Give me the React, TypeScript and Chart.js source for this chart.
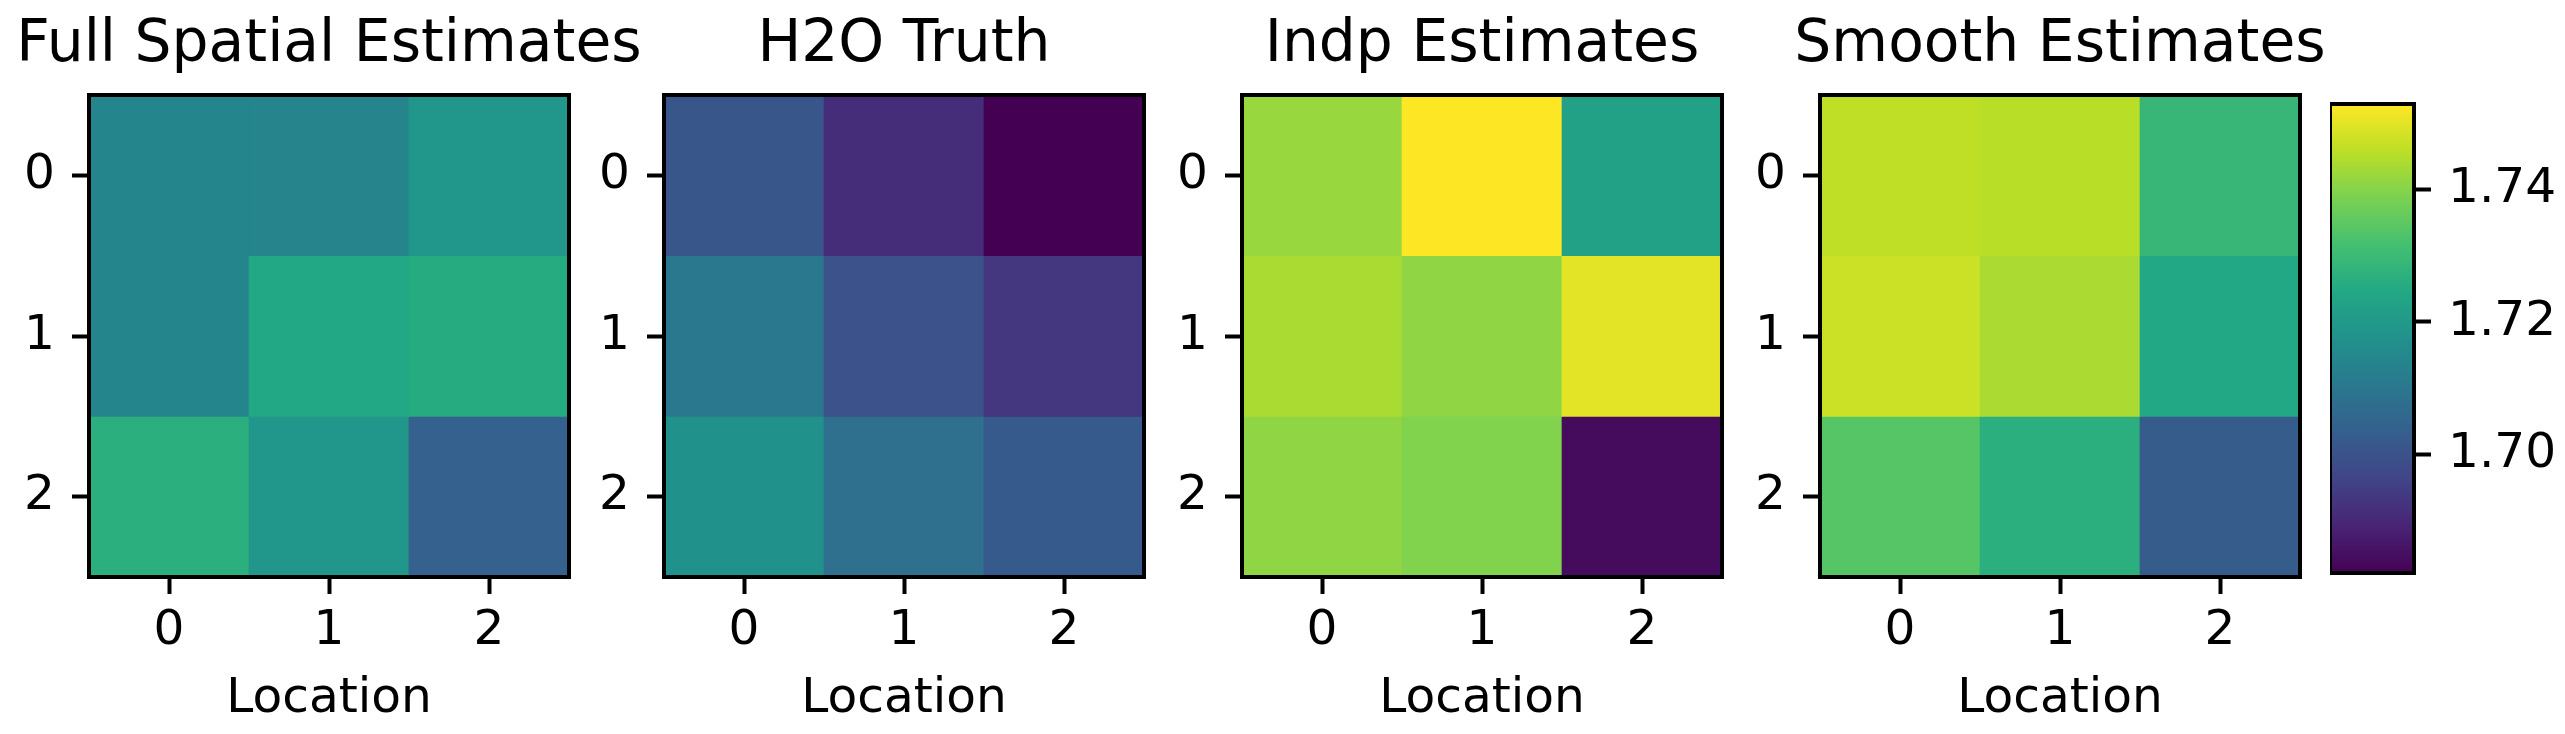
import React, { useEffect, useRef } from 'react';
import { Chart, registerables } from 'chart.js';

Chart.register(...registerables);

// ---------- data ----------
const rowLabels = ['0', '1', '2'];
const colLabels = ['0', '1', '2'];
const panelTitles = ['Full Spatial Estimates', 'H2O Truth', 'Indp Estimates', 'Smooth Estimates'];
const xAxisTitle = 'Location';

const fullSpatial = [
  [1.714, 1.7138, 1.719],
  [1.714, 1.7245, 1.7255],
  [1.7267, 1.719, 1.704],
];
const h2oTruth = [
  [1.701, 1.691, 1.682],
  [1.7105, 1.6998, 1.693],
  [1.7175, 1.708, 1.702],
];
const indpEstimates = [
  [1.742, 1.753, 1.7225],
  [1.7438, 1.741, 1.75],
  [1.741, 1.7395, 1.684],
];
const smoothEstimates = [
  [1.746, 1.7455, 1.729],
  [1.7475, 1.744, 1.7245],
  [1.734, 1.7267, 1.7026],
];
const colorbarTicks = [1.7, 1.72, 1.74];

const viridisStops = [
  '#440154', '#482475', '#414487', '#355f8d', '#2a788e', '#21918c',
  '#22a884', '#44bf70', '#7ad151', '#bddf26', '#fde725',
];

// ---------- layout / style ----------
const FONT = 'DejaVu Sans';
const TITLE_SIZE = 58.3;
const TICK_SIZE = 48.6;
const PANEL_LEFT = [89, 664, 1242, 1820];
const PANEL_W = 480;
const AREA_TOP = 95;
const AREA_BOTTOM = 577;
const CANVAS_H = 734;
const YAXIS_W = 87;
const CB_LEFT = 2330;
const CB_W = 84;
const CB_TOP = 104;
const CB_BOTTOM = 573;
const PAGE_W = 2565;
const LINE_W = 4;
const TICK_LEN = 17;

function hexToRgb(h: string) {
  return [parseInt(h.slice(1, 3), 16), parseInt(h.slice(3, 5), 16), parseInt(h.slice(5, 7), 16)];
}
function viridis(t: number) {
  const c = Math.max(0, Math.min(1, t)) * (viridisStops.length - 1);
  const i = Math.min(Math.floor(c), viridisStops.length - 2);
  const f = c - i;
  const a = hexToRgb(viridisStops[i]);
  const b = hexToRgb(viridisStops[i + 1]);
  const m = a.map((v, k) => Math.round(v + (b[k] - v) * f));
  return `rgb(${m[0]},${m[1]},${m[2]})`;
}

const framePlugin = {
  id: 'frame',
  afterDatasetsDraw(chart: any) {
    const { ctx, chartArea: a } = chart;
    ctx.save();
    ctx.strokeStyle = '#000';
    ctx.lineWidth = LINE_W;
    ctx.strokeRect(a.left, a.top, a.right - a.left, a.bottom - a.top);
    ctx.restore();
  },
};

function heatmapConfig(title: string, values: number[][], vmin: number, vmax: number): any {
  const datasets = values.map((row, r) => ({
    label: rowLabels[r],
    data: row.map(() => [r - 0.5, r + 0.5]),
    backgroundColor: row.map((v) => viridis((v - vmin) / (vmax - vmin))),
    borderColor: row.map((v) => viridis((v - vmin) / (vmax - vmin))),
    borderWidth: 0,
    borderSkipped: false,
    barPercentage: 1,
    categoryPercentage: 1,
    grouped: false,
  }));
  return {
    type: 'bar',
    data: { labels: colLabels, datasets },
    plugins: [framePlugin],
    options: {
      animation: false,
      responsive: false,
      maintainAspectRatio: false,
      devicePixelRatio: 1,
      layout: { padding: 0 },
      plugins: {
        legend: { display: false },
        tooltip: { enabled: false },
        title: {
          display: true,
          text: title,
          color: '#000',
          font: { family: FONT, size: TITLE_SIZE, weight: 'normal', lineHeight: 1.2 },
          padding: { top: 11, bottom: AREA_TOP - 11 - TITLE_SIZE * 1.2 },
        },
      },
      scales: {
        x: {
          type: 'category',
          offset: true,
          grid: {
            display: true,
            offset: false,
            drawOnChartArea: false,
            drawTicks: true,
            tickLength: TICK_LEN,
            tickWidth: LINE_W,
            tickColor: '#000',
          },
          border: { display: false },
          ticks: { color: '#000', font: { family: FONT, size: TICK_SIZE }, padding: 8, maxRotation: 0, autoSkip: false },
          title: {
            display: true,
            text: xAxisTitle,
            color: '#000',
            font: { family: FONT, size: TICK_SIZE, lineHeight: 1.2 },
            padding: { top: 0, bottom: 5 },
          },
          afterFit: (s: any) => {
            s.height = CANVAS_H - AREA_BOTTOM;
          },
        },
        y: {
          type: 'linear',
          position: 'left',
          reverse: true,
          min: -0.5,
          max: 2.5,
          afterBuildTicks: (s: any) => {
            s.ticks = rowLabels.map((_, i) => ({ value: i }));
          },
          grid: {
            display: true,
            drawOnChartArea: false,
            drawTicks: true,
            tickLength: TICK_LEN,
            tickWidth: LINE_W,
            tickColor: '#000',
          },
          border: { display: false },
          ticks: {
            color: '#000',
            font: { family: FONT, size: TICK_SIZE },
            padding: 17,
            callback: (v: any) => rowLabels[v] ?? '',
          },
          afterFit: (s: any) => {
            s.width = YAXIS_W;
          },
        },
        y2: {
          type: 'linear',
          position: 'right',
          display: true,
          grid: { display: false },
          border: { display: false },
          ticks: { display: false },
          afterFit: (s: any) => {
            s.width = YAXIS_W;
          },
        },
      },
    },
  };
}

function colorbarConfig(vmin: number, vmax: number): any {
  return {
    type: 'bar',
    data: {
      labels: [''],
      datasets: [
        {
          data: [[vmin, vmax]],
          backgroundColor: (c: any) => {
            const ca = c.chart.chartArea;
            if (!ca) return viridisStops[5];
            const g = c.chart.ctx.createLinearGradient(0, ca.bottom, 0, ca.top);
            viridisStops.forEach((col, i) => g.addColorStop(i / (viridisStops.length - 1), col));
            return g;
          },
          borderWidth: 0,
          barPercentage: 1,
          categoryPercentage: 1,
        },
      ],
    },
    plugins: [framePlugin],
    options: {
      animation: false,
      responsive: false,
      maintainAspectRatio: false,
      devicePixelRatio: 1,
      layout: { padding: { top: CB_TOP, bottom: CANVAS_H - CB_BOTTOM, left: 0, right: 0 } },
      plugins: { legend: { display: false }, tooltip: { enabled: false }, title: { display: false } },
      scales: {
        x: { display: false },
        y: {
          type: 'linear',
          position: 'right',
          min: vmin,
          max: vmax,
          afterBuildTicks: (s: any) => {
            s.ticks = colorbarTicks.map((v) => ({ value: v }));
          },
          grid: {
            display: true,
            drawOnChartArea: false,
            drawTicks: true,
            tickLength: TICK_LEN,
            tickWidth: LINE_W,
            tickColor: '#000',
          },
          border: { display: false },
          ticks: {
            color: '#000',
            font: { family: FONT, size: TICK_SIZE },
            padding: 17,
            callback: (v: any) => Number(v).toFixed(2),
          },
          afterFit: (s: any) => {
            s.width = PAGE_W - CB_LEFT - CB_W;
          },
        },
      },
    },
  };
}

export default function App() {
  const refs = [useRef<HTMLCanvasElement>(null), useRef<HTMLCanvasElement>(null), useRef<HTMLCanvasElement>(null), useRef<HTMLCanvasElement>(null)];
  const cbRef = useRef<HTMLCanvasElement>(null);
  const panels = [fullSpatial, h2oTruth, indpEstimates, smoothEstimates];

  useEffect(() => {
    const all = panels.flat(2);
    const vmin = Math.min(...all);
    const vmax = Math.max(...all);
    const charts: Chart[] = [];
    panels.forEach((vals, i) => {
      const cv = refs[i].current;
      if (cv) charts.push(new Chart(cv, heatmapConfig(panelTitles[i], vals, vmin, vmax)));
    });
    if (cbRef.current) charts.push(new Chart(cbRef.current, colorbarConfig(vmin, vmax)));
    return () => charts.forEach((c) => c.destroy());
  }, []);

  const canvasW = 2 * YAXIS_W + PANEL_W;
  return (
    <div style={{ position: 'absolute', left: 0, top: 0, width: PAGE_W, height: CANVAS_H, background: '#fff' }}>
      {panels.map((_, i) => (
        <canvas
          key={i}
          ref={refs[i]}
          width={canvasW}
          height={CANVAS_H}
          style={{ position: 'absolute', left: PANEL_LEFT[i] - YAXIS_W, top: 0, width: canvasW, height: CANVAS_H }}
        />
      ))}
      <canvas
        ref={cbRef}
        width={PAGE_W - CB_LEFT}
        height={CANVAS_H}
        style={{ position: 'absolute', left: CB_LEFT, top: 0, width: PAGE_W - CB_LEFT, height: CANVAS_H }}
      />
    </div>
  );
}
